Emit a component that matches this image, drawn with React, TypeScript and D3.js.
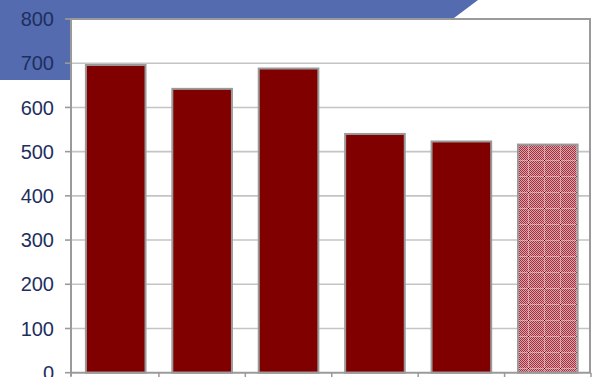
import React from "react";
import * as d3 from "d3";

const categories = ["A", "B", "C", "D", "E", "F"];
const values = [696, 642, 688, 540, 523, 516];
const patterned = [false, false, false, false, false, true];
const yTicks = [0, 100, 200, 300, 400, 500, 600, 700, 800];

const W = 592;
const H = 377;
const left = 71;
const right = 590;
const top = 19;
const bottom = 372.7;

export default function App() {
  const y = d3.scaleLinear().domain([0, 800]).range([bottom, top]);
  const x = d3
    .scaleBand<string>()
    .domain(categories)
    .range([left + 1.5, right + 1])
    .paddingInner(0.31)
    .paddingOuter(0.155);
  const step = x.step();
  const boundaries = d3.range(0, categories.length + 1).map((i) => left + 1.5 + i * step);

  return (
    <div style={{ position: "absolute", left: 0, top: 0 }}>
      <svg width={W} height={H} style={{ display: "block" }}>
        <defs>
          <pattern id="chk" width="16" height="16" patternUnits="userSpaceOnUse">
            <rect width="16" height="16" fill="#dca4a8" />
            {d3.range(0, 16).flatMap((i) =>
              d3.range(0, 16).filter((j) => (i + j) % 2 === 0).map((j) => (
                <rect key={`${i}-${j}`} x={i} y={j} width={1} height={1} fill="#a03040" />
              ))
            )}
            <rect x={0} y={0} width={16} height={1} fill="#f6e4e4" opacity={0.45} />
            <rect x={0} y={0} width={1} height={16} fill="#f6e4e4" opacity={0.45} />
            <rect x={0} y={0} width={1} height={1} fill="#800000" />
          </pattern>
        </defs>
        <rect width={W} height={H} fill="#ffffff" />
        {/* decorative blue slide shape */}
        <path d={`M0,0 L478,0 L454,18 L${left},18 L${left},80 L0,80 Z`} fill="#546bb0" />
        {/* plot background */}
        <rect x={left} y={top} width={right - left} height={bottom - top} fill="#ffffff" />
        {/* gridlines */}
        {yTicks.slice(1, -1).map((t) => (
          <line key={t} x1={left} x2={right} y1={y(t)} y2={y(t)} stroke="#c4c4c4" strokeWidth={1.6} />
        ))}
        {/* plot border top/right */}
        <line x1={left} x2={right + 1} y1={top} y2={top} stroke="#9a9a9a" strokeWidth={2} />
        <line x1={right} x2={right} y1={top} y2={bottom} stroke="#9a9a9a" strokeWidth={2} />
        {/* bars */}
        {values.map((v, i) => (
          <rect
            key={categories[i]}
            x={x(categories[i])!}
            y={y(v)}
            width={x.bandwidth()}
            height={bottom - y(v)}
            fill={patterned[i] ? "url(#chk)" : "#800000"}
            stroke="#9a9a9a"
            strokeWidth={2}
          />
        ))}
        {/* axes */}
        <line x1={left} x2={right + 1} y1={bottom} y2={bottom} stroke="#9a9a9a" strokeWidth={2} />
        <line x1={left} x2={left} y1={top - 1} y2={bottom + 4} stroke="#9a9a9a" strokeWidth={2} />
        {boundaries.slice(1).map((bx, i) => (
          <line key={i} x1={bx} x2={bx} y1={bottom} y2={bottom + 5} stroke="#9a9a9a" strokeWidth={1.5} />
        ))}
        {yTicks.map((t) => (
          <g key={t}>
            <line x1={left - 6} x2={left} y1={y(t)} y2={y(t)} stroke="#9a9a9a" strokeWidth={1.6} />
            <text
              x={54}
              y={y(t)}
              dy="0.36em"
              textAnchor="end"
              fontFamily="'Liberation Sans', Arial, sans-serif"
              fontSize={20}
              fill="#1e2f5f"
            >
              {t}
            </text>
          </g>
        ))}
      </svg>
    </div>
  );
}
